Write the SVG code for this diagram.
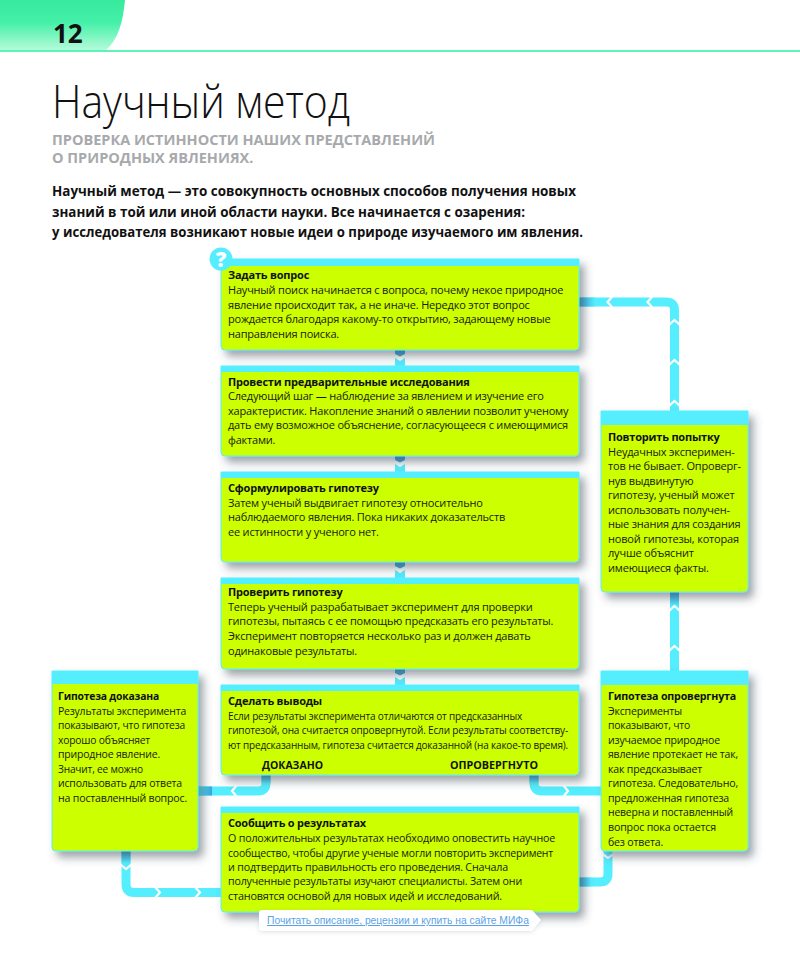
<svg xmlns="http://www.w3.org/2000/svg" width="800" height="964" viewBox="0 0 800 964">
<defs>
<linearGradient id="tab" x1="0" y1="0" x2="0" y2="1"><stop offset="0" stop-color="#36ea9d"/><stop offset="0.45" stop-color="#45f0a8"/><stop offset="1" stop-color="#b4fbd9"/></linearGradient>
<linearGradient id="fadeR" x1="0" y1="0" x2="1" y2="0"><stop offset="0" stop-color="#3ba6dc"/><stop offset="1" stop-color="#55eeff"/></linearGradient>
<linearGradient id="fadeL" x1="1" y1="0" x2="0" y2="0"><stop offset="0" stop-color="#3ba6dc"/><stop offset="1" stop-color="#55eeff"/></linearGradient>
<linearGradient id="fadeD" x1="0" y1="0" x2="0" y2="1"><stop offset="0" stop-color="#3ba6dc"/><stop offset="1" stop-color="#55eeff"/></linearGradient>
<filter id="sh" x="-15%" y="-15%" width="130%" height="135%"><feDropShadow dx="5" dy="6" stdDeviation="4" flood-color="#3d4a55" flood-opacity="0.5"/></filter>
<filter id="sh2" x="-5%" y="-30%" width="110%" height="170%"><feDropShadow dx="0" dy="1" stdDeviation="2" flood-color="#8899aa" flood-opacity="0.3"/></filter>
</defs>
<style>
text{font-family:"Open Sans","Noto Sans","Liberation Sans",sans-serif;fill:#111}
.b{font-size:11px;letter-spacing:-0.2px;fill:#1a1a0a}
.h{font-size:11px;letter-spacing:-0.2px;font-weight:700}
.body{fill:#ccff00;stroke:#55eeff;stroke-width:1}
.cap{fill:#55eeff}
.line{fill:none;stroke:#55eeff;stroke-width:9;stroke-linejoin:round}
.chev{fill:none;stroke:#fff;stroke-width:2.2}
.lab{font-size:10.9px;font-weight:700}
.fr{fill:url(#fadeR)}.fl{fill:url(#fadeL)}.fd{fill:url(#fadeD)}
.tip{fill:#3ba6dc}
</style>

<g id="header">
<path d="M0 0H125C123 22 118 40 106 50H0Z" fill="url(#tab)"/>
<rect x="0" y="50" width="800" height="2" fill="#5cf5b8"/>
<text x="53" y="43" font-size="26" font-weight="700">12</text>
<text x="52" y="118" font-size="46" font-weight="300" textLength="298" lengthAdjust="spacingAndGlyphs">Научный метод</text>
<text x="52" y="145" font-size="14.5" font-weight="700" style="fill:#a7a9ac">ПРОВЕРКА ИСТИННОСТИ НАШИХ ПРЕДСТАВЛЕНИЙ</text>
<text x="52" y="163" font-size="14.5" font-weight="700" style="fill:#a7a9ac">О ПРИРОДНЫХ ЯВЛЕНИЯХ.</text>
<text x="52" y="196" font-size="13.8" font-weight="700" textLength="524" lengthAdjust="spacingAndGlyphs">Научный метод — это совокупность основных способов получения новых</text>
<text x="52" y="217" font-size="13.8" font-weight="700" textLength="473" lengthAdjust="spacingAndGlyphs">знаний в той или иной области науки. Все начинается с озарения:</text>
<text x="52" y="237" font-size="13.8" font-weight="700" textLength="531" lengthAdjust="spacingAndGlyphs">у исследователя возникают новые идеи о природе изучаемого им явления.</text>
</g>

<g id="connectors">
<path class="line" d="M579 302H666Q674.5 302 674.5 310V411"/>
<rect class="fr" x="579" y="297.500" width="16" height="9"/>
<path class="chev" d="M612 297L607.500 302L612 307M652 297L647.500 302L652 307M669 325L674.500 320L680 325M669 365L674.500 360L680 365M669 406L674.500 401L680 406"/>
<path class="line" d="M674.500 592V671"/>
<rect class="fd" x="670" y="592" width="9" height="14"/>
<path class="chev" d="M669 611L674.500 606L680 611M669 651L674.500 646L680 651"/>
<path class="line" d="M126 851V884Q126 892.500 134 892.500H221"/>
<rect class="fd" x="121.500" y="851" width="9" height="12"/>
<path class="chev" d="M120 864L126 869L132 864M155 887L160 892.500L155 898M195 887L200 892.500L195 898"/>
<path class="line" d="M266 775V783Q266 791 258 791H198"/>
<rect class="fd" x="261.500" y="775" width="9" height="8"/>
<rect class="fl" x="198" y="786.500" width="14" height="9"/>
<path class="chev" d="M237 785L232 791L237 797"/>
<path class="line" d="M534 775V783Q534 791 542 791H601"/>
<rect class="fd" x="529.500" y="775" width="9" height="8"/>
<path class="chev" d="M563 785L568 791L563 797"/>
<path class="line" d="M608 851V874Q608 882 600 882H579"/>
<rect class="fr" x="579" y="877.500" width="12" height="9"/>
<path class="chev" d="M601 853L608 858L615 853"/>
<g id="short-arrows">
<path class="tip" d="M395 350H405V354L400 356.500L395 354Z"/><path class="cap" d="M395 358L400 361L405 358V366H395Z"/>
<path class="tip" d="M395 456H405V460L400 462.500L395 460Z"/><path class="cap" d="M395 464L400 467L405 464V472H395Z"/>
<path class="tip" d="M395 562H405V566L400 568.500L395 566Z"/><path class="cap" d="M395 570L400 573L405 570V578H395Z"/>
<path class="tip" d="M395 669H405V673L400 675.500L395 673Z"/><path class="cap" d="M395 677L400 680L405 677V685H395Z"/>
</g>
</g>

<g id="n-ask">
<path class="body" filter="url(#sh)" d="M221 259H579V346Q579 350 575 350H225Q221 350 221 346Z"/>
<rect class="cap" x="221" y="259" width="358" height="7"/>
<circle cx="221" cy="259" r="11.500" class="cap"/>
<text x="221" y="266.500" font-size="21" font-weight="800" text-anchor="middle" style="fill:#fff">?</text>
<text class="h" x="228" y="279">Задать вопрос</text>
<text class="b" x="228" y="294">Научный поиск начинается с вопроса, почему некое природное</text>
<text class="b" x="228" y="309">явление происходит так, а не иначе. Нередко этот вопрос</text>
<text class="b" x="228" y="323">рождается благодаря какому-то открытию, задающему новые</text>
<text class="b" x="228" y="338">направления поиска.</text>
</g>
<g id="n-research">
<path class="body" filter="url(#sh)" d="M221 366H579V452Q579 456 575 456H225Q221 456 221 452Z"/>
<rect class="cap" x="221" y="366" width="358" height="6"/>
<text class="h" x="228" y="386">Провести предварительные исследования</text>
<text class="b" x="228" y="400">Следующий шаг — наблюдение за явлением и изучение его</text>
<text class="b" x="228" y="415">характеристик. Накопление знаний о явлении позволит ученому</text>
<text class="b" x="228" y="429">дать ему возможное объяснение, согласующееся с имеющимися</text>
<text class="b" x="228" y="444">фактами.</text>
</g>
<g id="n-hypothesis">
<path class="body" filter="url(#sh)" d="M221 472H579V558Q579 562 575 562H225Q221 562 221 558Z"/>
<rect class="cap" x="221" y="472" width="358" height="6"/>
<text class="h" x="228" y="492">Сформулировать гипотезу</text>
<text class="b" x="228" y="507">Затем ученый выдвигает гипотезу относительно</text>
<text class="b" x="228" y="521">наблюдаемого явления. Пока никаких доказательств</text>
<text class="b" x="228" y="536">ее истинности у ученого нет.</text>
</g>
<g id="n-test">
<path class="body" filter="url(#sh)" d="M221 578H579V665Q579 669 575 669H225Q221 669 221 665Z"/>
<rect class="cap" x="221" y="578" width="358" height="6"/>
<text class="h" x="228" y="596">Проверить гипотезу</text>
<text class="b" x="228" y="611">Теперь ученый разрабатывает эксперимент для проверки</text>
<text class="b" x="228" y="625">гипотезы, пытаясь с ее помощью предсказать его результаты.</text>
<text class="b" x="228" y="640">Эксперимент повторяется несколько раз и должен давать</text>
<text class="b" x="228" y="655">одинаковые результаты.</text>
</g>
<g id="n-conclude">
<path class="body" filter="url(#sh)" d="M221 685H579V771Q579 775 575 775H225Q221 775 221 771Z"/>
<rect class="cap" x="221" y="685" width="358" height="6"/>
<text class="h" x="228" y="705" textLength="94" lengthAdjust="spacingAndGlyphs">Сделать выводы</text>
<text class="b" x="228" y="720" textLength="294" lengthAdjust="spacingAndGlyphs">Если результаты эксперимента отличаются от предсказанных</text>
<text class="b" x="228" y="734" textLength="340" lengthAdjust="spacingAndGlyphs">гипотезой, она считается опровергнутой. Если результаты соответству-</text>
<text class="b" x="228" y="749" textLength="340" lengthAdjust="spacingAndGlyphs">ют предсказанным, гипотеза считается доказанной (на какое-то время).</text>
<text class="lab" x="262" y="769" textLength="61" lengthAdjust="spacingAndGlyphs">ДОКАЗАНО</text>
<text class="lab" x="450" y="769" textLength="88" lengthAdjust="spacingAndGlyphs">ОПРОВЕРГНУТО</text>
</g>
<g id="n-report">
<path class="body" filter="url(#sh)" d="M221 807H579V908Q579 912 575 912H225Q221 912 221 908Z"/>
<rect class="cap" x="221" y="807" width="358" height="6"/>
<text class="h" x="228" y="827" textLength="138" lengthAdjust="spacingAndGlyphs">Сообщить о результатах</text>
<text class="b" x="228" y="842" textLength="327" lengthAdjust="spacingAndGlyphs">О положительных результатах необходимо оповестить научное</text>
<text class="b" x="228" y="857" textLength="325" lengthAdjust="spacingAndGlyphs">сообщество, чтобы другие ученые могли повторить эксперимент</text>
<text class="b" x="228" y="871" textLength="280" lengthAdjust="spacingAndGlyphs">и подтвердить правильность его проведения. Сначала</text>
<text class="b" x="228" y="885" textLength="294" lengthAdjust="spacingAndGlyphs">полученные результаты изучают специалисты. Затем они</text>
<text class="b" x="228" y="900" textLength="274" lengthAdjust="spacingAndGlyphs">становятся основой для новых идей и исследований.</text>
</g>
<g id="n-proved">
<path class="body" filter="url(#sh)" d="M52 671H198V847Q198 851 194 851H56Q52 851 52 847Z"/>
<rect class="cap" x="52" y="671" width="146" height="13"/>
<text class="h" x="58" y="700" textLength="101" lengthAdjust="spacingAndGlyphs">Гипотеза доказана</text>
<text class="b" x="58" y="715" textLength="128" lengthAdjust="spacingAndGlyphs">Результаты эксперимента</text>
<text class="b" x="58" y="729" textLength="127" lengthAdjust="spacingAndGlyphs">показывают, что гипотеза</text>
<text class="b" x="58" y="744" textLength="92" lengthAdjust="spacingAndGlyphs">хорошо объясняет</text>
<text class="b" x="58" y="758" textLength="102" lengthAdjust="spacingAndGlyphs">природное явление.</text>
<text class="b" x="58" y="773" textLength="85" lengthAdjust="spacingAndGlyphs">Значит, ее можно</text>
<text class="b" x="58" y="787" textLength="124" lengthAdjust="spacingAndGlyphs">использовать для ответа</text>
<text class="b" x="58" y="802" textLength="129" lengthAdjust="spacingAndGlyphs">на поставленный вопрос.</text>
</g>
<g id="n-retry">
<path class="body" filter="url(#sh)" d="M601 411H748V588Q748 592 744 592H605Q601 592 601 588Z"/>
<rect class="cap" x="601" y="411" width="147" height="14"/>
<text class="h" x="608" y="441">Повторить попытку</text>
<text class="b" x="608" y="456">Неудачных эксперимен-</text>
<text class="b" x="608" y="470">тов не бывает. Опроверг-</text>
<text class="b" x="608" y="485">нув выдвинутую</text>
<text class="b" x="608" y="499">гипотезу, ученый может</text>
<text class="b" x="608" y="514">использовать получен-</text>
<text class="b" x="608" y="528">ные знания для создания</text>
<text class="b" x="608" y="543">новой гипотезы, которая</text>
<text class="b" x="608" y="557">лучше объяснит</text>
<text class="b" x="608" y="572">имеющиеся факты.</text>
</g>
<g id="n-refuted">
<path class="body" filter="url(#sh)" d="M601 671H748V847Q748 851 744 851H605Q601 851 601 847Z"/>
<rect class="cap" x="601" y="671" width="147" height="14"/>
<text class="h" x="608" y="700" textLength="128" lengthAdjust="spacingAndGlyphs">Гипотеза опровергнута</text>
<text class="b" x="608" y="715" textLength="74" lengthAdjust="spacingAndGlyphs">Эксперименты</text>
<text class="b" x="608" y="729" textLength="82" lengthAdjust="spacingAndGlyphs">показывают, что</text>
<text class="b" x="608" y="744" textLength="112" lengthAdjust="spacingAndGlyphs">изучаемое природное</text>
<text class="b" x="608" y="758" textLength="130" lengthAdjust="spacingAndGlyphs">явление протекает не так,</text>
<text class="b" x="608" y="773" textLength="94" lengthAdjust="spacingAndGlyphs">как предсказывает</text>
<text class="b" x="608" y="787" textLength="130" lengthAdjust="spacingAndGlyphs">гипотеза. Следовательно,</text>
<text class="b" x="608" y="802" textLength="121" lengthAdjust="spacingAndGlyphs">предложенная гипотеза</text>
<text class="b" x="608" y="816" textLength="125" lengthAdjust="spacingAndGlyphs">неверна и поставленный</text>
<text class="b" x="608" y="831" textLength="108" lengthAdjust="spacingAndGlyphs">вопрос пока остается</text>
<text class="b" x="608" y="846" textLength="55" lengthAdjust="spacingAndGlyphs">без ответа.</text>
</g>
<g id="link">
<path d="M262 910H532L541 920L532 931H262Q259 931 259 928V913Q259 910 262 910Z" fill="#fff" filter="url(#sh2)"/>
<text x="267" y="924" font-size="10.300" text-decoration="underline" style="font-family:'Liberation Sans',sans-serif;fill:#5ba3e6">Почитать описание, рецензии и купить на сайте МИФа</text>
</g>
</svg>
